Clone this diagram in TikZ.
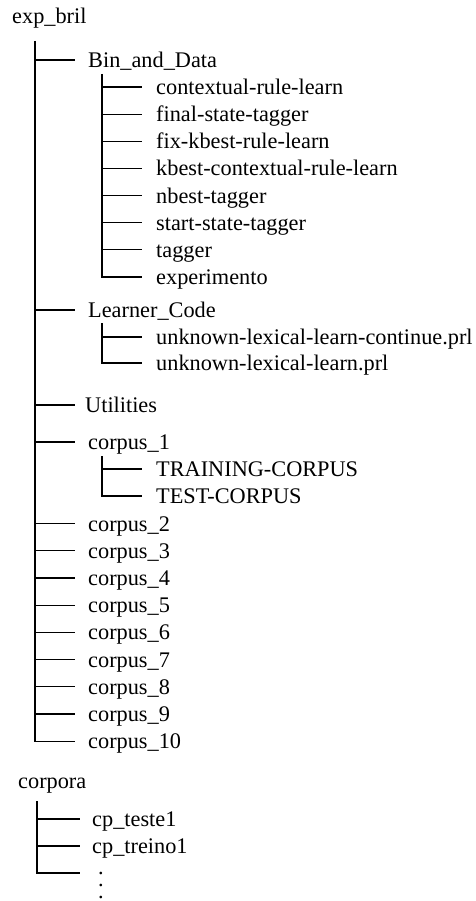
\documentclass[tikz,border=0pt]{standalone}
\usepackage{fontspec}
\setmainfont{Liberation Serif}
\begin{document}
\begin{tikzpicture}[x=1pt,y=-1pt,
  lbl/.style={anchor=west, inner ysep=0pt, text height=20pt, text depth=5pt, font=\fontsize{22.3}{26}\selectfont},
  lvA/.style={lbl, inner xsep=13pt},
  lvB/.style={lbl, inner xsep=14pt},
  lvC/.style={lbl, inner xsep=12pt},
  branch/.style={line width=1.1pt},
  dotcol/.style={anchor=base, inner sep=0pt, align=center, font=\fontsize{22.3}{12.2}\selectfont}]
\useasboundingbox (0,0) rectangle (475,901);

% root
\node[lbl, inner xsep=0pt] (root) at (12,16.5) {exp\_bril};
\coordinate (t0) at (35,41);

% Bin_and_Data
\node[lvA] (bin) at (75,60) {Bin\_and\_Data};
\coordinate (b0) at (102,74);
\node[lvB] (b1) at (142,87) {contextual-rule-learn};
\node[lvB] (b2) at (142,114.1) {final-state-tagger};
\node[lvB] (b3) at (142,141.3) {fix-kbest-rule-learn};
\node[lvB] (b4) at (142,168.4) {kbest-contextual-rule-learn};
\node[lvB] (b5) at (142,195.6) {nbest-tagger};
\node[lvB] (b6) at (142,222.7) {start-state-tagger};
\node[lvB] (b7) at (142,249.9) {tagger};
\node[lvB] (b8) at (142,277) {experimento};

% Learner_Code
\node[lvA] (lc) at (75,310) {Learner\_Code};
\coordinate (l0) at (102,323);
\node[lvB] (l1) at (142,337) {unknown-lexical-learn-continue.prl};
\node[lvB] (l2) at (142,363) {unknown-lexical-learn.prl};

% Utilities
\node[lvA, inner xsep=10pt] (ut) at (75,405) {Utilities};

% corpus_1
\node[lvA] (c1) at (75,442) {corpus\_1};
\coordinate (k0) at (102,456);
\node[lvB] (tr) at (142,469) {TRAINING-CORPUS};
\node[lvB] (te) at (142,496) {TEST-CORPUS};

% corpus_2 .. corpus_10
\node[lvA] (c2) at (75,523.6) {corpus\_2};
\node[lvA] (c3) at (75,550.8) {corpus\_3};
\node[lvA] (c4) at (75,578) {corpus\_4};
\node[lvA] (c5) at (75,605.2) {corpus\_5};
\node[lvA] (c6) at (75,632.4) {corpus\_6};
\node[lvA] (c7) at (75,659.6) {corpus\_7};
\node[lvA] (c8) at (75,686.8) {corpus\_8};
\node[lvA] (c9) at (75,714) {corpus\_9};
\node[lvA] (c10) at (75,741.2) {corpus\_10};

% connectors of exp_bril
\draw[branch] (t0) |- (c10.west);
\foreach \n in {bin,lc,ut,c1,c2,c3,c4,c5,c6,c7,c8,c9}
  \draw[branch] (t0 |- \n.west) -- (\n.west);
\draw[branch] (b0) |- (b8.west);
\foreach \n in {b1,b2,b3,b4,b5,b6,b7}
  \draw[branch] (b0 |- \n.west) -- (\n.west);
\draw[branch] (l0) |- (l2.west);
\draw[branch] (l0 |- l1.west) -- (l1.west);
\draw[branch] (k0) |- (te.west);
\draw[branch] (k0 |- tr.west) -- (tr.west);

% corpora
\node[lbl, inner xsep=0pt] (corpora) at (18,780.5) {corpora};
\coordinate (p0) at (37,801);
\node[lvC] (p1) at (80,819) {cp\_teste1};
\node[lvC] (p2) at (80,846) {cp\_treino1};
\coordinate (p3) at (80,873);
\draw[branch] (p0) |- (p3);
\draw[branch] (p0 |- p1.west) -- (p1.west);
\draw[branch] (p0 |- p2.west) -- (p2.west);
\node[dotcol] (dots) at (101,898.9) {.\\.\\.};
\end{tikzpicture}
\end{document}
